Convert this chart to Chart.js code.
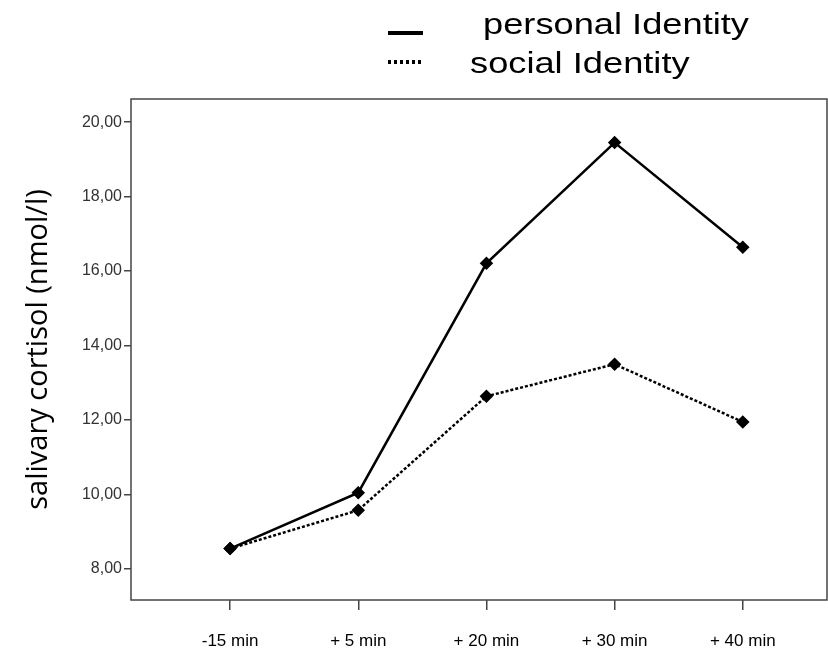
<!DOCTYPE html>
<html>
<head>
<meta charset="utf-8">
<script src="https://cdn.jsdelivr.net/npm/chart.js@4"></script>
<style>
  html, body { margin: 0; padding: 0; background: #fff; }
  #wrap { width: 828px; height: 655px; }
</style>
</head>
<body>
<div id="wrap"><canvas id="myChart" width="828" height="655"></canvas></div>
<script>
'use strict';

// -------------------- data --------------------
const categories = ['-15 min', '+ 5 min', '+ 20 min', '+ 30 min', '+ 40 min'];
const personalIdentity = [8.55, 10.05, 16.21, 19.45, 16.64];
const socialIdentity = [8.55, 9.58, 12.64, 13.50, 11.95];
const yTicks = [8, 10, 12, 14, 16, 18, 20];
const seriesNames = ['personal Identity', 'social Identity'];

// -------------------- box + legend --------------------
const boxAndLegend = {
  id: 'boxAndLegend',
  afterDatasetsDraw(chart) {
    const {ctx, chartArea} = chart;
    ctx.save();
    ctx.strokeStyle = '#444';
    ctx.lineWidth = 1.5;
    ctx.strokeRect(chartArea.left, chartArea.top, chartArea.right - chartArea.left, chartArea.bottom - chartArea.top);

    // legend (text in the original is a bit stretched sideways)
    const rows = [
      {dash: [], y: 33, ty: 34, tx: 483},
      {dash: [3, 3], y: 62, ty: 73, tx: 470}
    ];
    ctx.font = '29px "Liberation Sans", Arial, sans-serif';
    ctx.textBaseline = 'alphabetic';
    ctx.fillStyle = '#000';
    chart.data.datasets.forEach((ds, i) => {
      const r = rows[i];
      ctx.strokeStyle = '#000';
      ctx.lineWidth = 4;
      ctx.setLineDash(r.dash);
      ctx.beginPath();
      ctx.moveTo(388, r.y);
      ctx.lineTo(423, r.y);
      ctx.stroke();
      ctx.save();
      ctx.translate(r.tx, r.ty);
      ctx.scale(1.25, 1);
      ctx.fillText(ds.label, 0, 0);
      ctx.restore();
    });
    ctx.restore();
  }
};

// -------------------- Chart.js --------------------
{
  const ctx = document.getElementById('myChart').getContext('2d');
  const toPoints = arr => arr.map((v, i) => ({x: i, y: v}));

  const myChart = new Chart(ctx, {
    type: 'line',
    data: {
      datasets: [{
        label: seriesNames[0],
        data: toPoints(personalIdentity),
        borderColor: '#000',
        backgroundColor: '#000',
        borderWidth: 2.5,
        pointStyle: 'rectRot',
        pointRadius: 5,
        tension: 0
      }, {
        label: seriesNames[1],
        data: toPoints(socialIdentity),
        borderColor: '#000',
        backgroundColor: '#000',
        borderWidth: 2.5,
        borderDash: [3, 2],
        pointStyle: 'rectRot',
        pointRadius: 5,
        tension: 0
      }]
    },
    options: {
      responsive: false,
      animation: false,
      layout: { autoPadding: false, padding: { top: 99, right: 1, left: 0, bottom: 0 } },
      plugins: {
        legend: { display: false },
        tooltip: { enabled: false }
      },
      scales: {
        x: {
          type: 'linear',
          min: -0.773,
          max: 4.657,
          afterBuildTicks: axis => { axis.ticks = categories.map((c, i) => ({value: i})); },
          afterFit: axis => { axis.height = 55; },
          border: { display: false },
          grid: { drawOnChartArea: false, tickLength: 10, color: '#444', lineWidth: 1.5 },
          ticks: {
            callback: v => categories[v],
            color: '#000',
            font: { family: '"Liberation Sans", Arial, sans-serif', size: 17 },
            padding: 21,
            maxRotation: 0,
            autoSkip: false
          }
        },
        y: {
          min: 7.17,
          max: 20.62,
          afterBuildTicks: axis => { axis.ticks = yTicks.map(v => ({value: v})); },
          afterFit: axis => { axis.width = 131; },
          border: { display: false },
          grid: { drawOnChartArea: false, tickLength: 7, color: '#444', lineWidth: 1.5 },
          ticks: {
            callback: v => v.toFixed(2).replace('.', ','),
            color: '#333',
            font: { family: '"Liberation Sans", Arial, sans-serif', size: 16 },
            padding: 2
          },
          title: {
            display: true,
            text: 'salivary cortisol (nmol/l)',
            color: '#000',
            font: { family: '"Open Sans", sans-serif', size: 29, weight: 'normal' },
            padding: { top: 21 }
          }
        }
      }
    },
    plugins: [boxAndLegend]
  });
}
</script>
</body>
</html>
